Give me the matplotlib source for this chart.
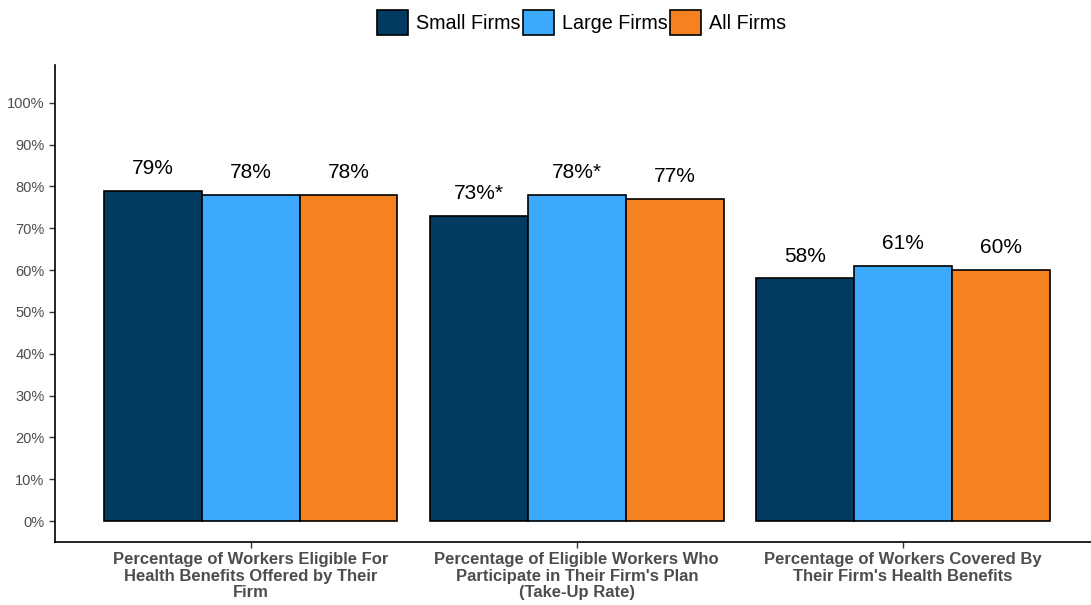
import numpy as np
import matplotlib.pyplot as plt

plt.rcParams['font.family'] = ['Liberation Sans', 'DejaVu Sans']

# data
categories = ["Percentage of Workers Eligible For\nHealth Benefits Offered by Their\nFirm",
              "Percentage of Eligible Workers Who\nParticipate in Their Firm's Plan\n(Take-Up Rate)",
              "Percentage of Workers Covered By\nTheir Firm's Health Benefits"]
series_names = ["Small Firms", "Large Firms", "All Firms"]
small_firms = [79, 73, 58]
large_firms = [78, 78, 61]
all_firms = [78, 77, 60]
value_labels = [["79%", "73%*", "58%"],
                ["78%", "78%*", "61%"],
                ["78%", "77%", "60%"]]
yticks = [0, 10, 20, 30, 40, 50, 60, 70, 80, 90, 100]

colors = ['#033A60', '#3DA9FC', '#F58220']

fig = plt.figure(figsize=(10.91, 6.05), dpi=100)
ax = fig.add_axes([55/1091, (605-542)/605, 1 - 55/1091, (542-65)/605])

x = np.arange(1, len(categories) + 1)
w = 0.3
for i, (vals, name) in enumerate(zip([small_firms, large_firms, all_firms], series_names)):
    pos = x + (i - 1) * w
    ax.bar(pos, vals, width=w, color=colors[i], edgecolor='black', linewidth=1.2, label=name)
    for p, v, lab in zip(pos, vals, value_labels[i]):
        ax.text(p, v + 3.0, lab, ha='center', va='bottom', fontsize=15, color='black')

ax.set_ylim(-5, 109)
ax.set_xlim(0.4, 3 + (1091 - 903) / 326)
ax.set_yticks(yticks)
ax.set_yticklabels([f"{t}%" for t in yticks], fontsize=10.5, color='#4D4D4D')
ax.set_xticks(x)
ax.set_xticklabels(categories, fontsize=12, fontweight='bold', color='#4D4D4D', linespacing=1.15)

for s in ['top', 'right']:
    ax.spines[s].set_visible(False)
for s in ['left', 'bottom']:
    ax.spines[s].set_linewidth(1.2)
ax.tick_params(axis='both', length=4, width=1.0, color='#333333')
ax.tick_params(axis='x', pad=3)

fig.legend(loc='upper center', bbox_to_anchor=(0.533, 1.012), ncol=3, frameon=False,
           fontsize=14.2, handlelength=1.55, handleheight=1.55, handletextpad=0.4,
           columnspacing=0.15)

plt.savefig('out.png', dpi=100)
